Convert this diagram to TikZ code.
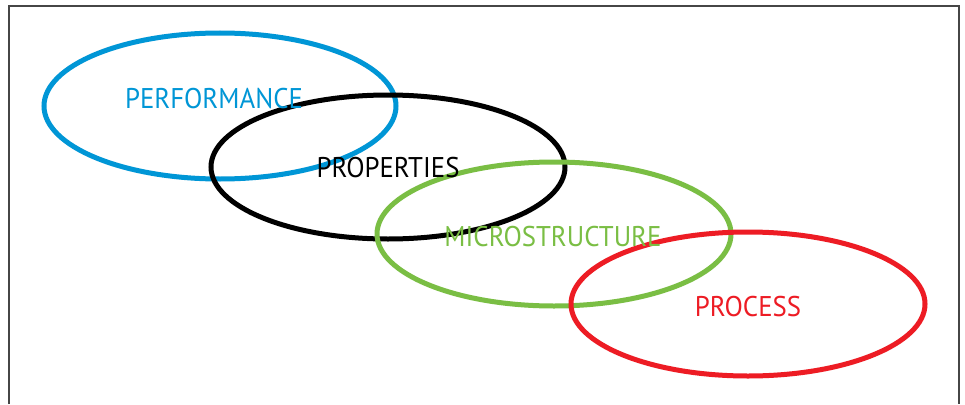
\documentclass[tikz,border=0pt]{standalone}
\usepackage{fontspec}
\setmainfont{PT Sans}[FakeStretch=0.94]
\definecolor{cblue}{RGB}{0,150,214}
\definecolor{cgreen}{RGB}{122,190,68}
\definecolor{cred}{RGB}{237,28,36}
\definecolor{cframe}{RGB}{70,70,70}
\begin{document}
\begin{tikzpicture}[x=1pt,y=-1pt,
  ring/.style={line width=5pt},
  lbl/.style={font=\fontsize{28.5}{30}\selectfont, inner sep=0pt, anchor=center}]
\useasboundingbox (0,0) rectangle (965,404);
\fill[white] (0,0) rectangle (965,404);
\draw[cframe, line width=2.2pt] (9,404) -- (9,6) -- (959,6) -- (959,404);
\draw[ring, cblue] (220,106) ellipse [x radius=176, y radius=73];
\draw[ring, black] (388,167) ellipse [x radius=177, y radius=72];
\draw[ring, cgreen] (554,234) ellipse [x radius=177, y radius=72];
\draw[ring, cred] (748,304) ellipse [x radius=177, y radius=72];
\node[lbl, text=cblue] (perf) at (214,99) {PERFORMANCE};
\node[lbl, text=black] (prop) at (388,168) {PROPERTIES};
\node[lbl, text=cgreen] (micro) at (553,237) {MICROSTRUCTURE};
\node[lbl, text=cred] (proc) at (748,307) {PROCESS};
\end{tikzpicture}
\end{document}
